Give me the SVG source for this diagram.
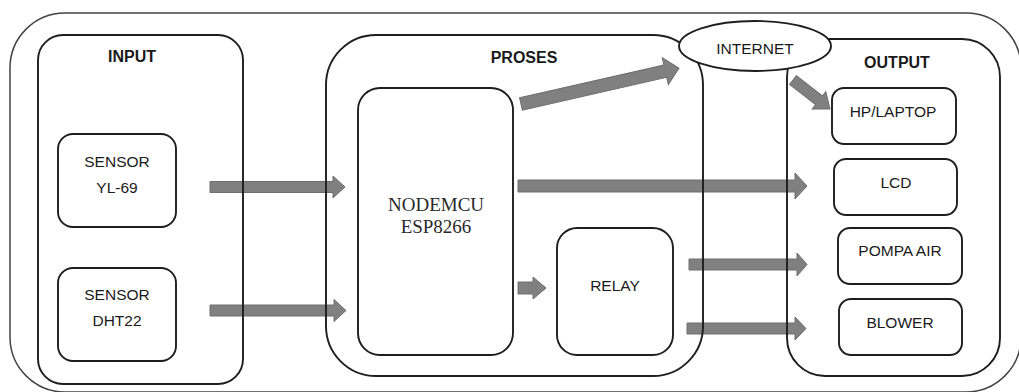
<svg xmlns="http://www.w3.org/2000/svg" width="1019" height="392" viewBox="0 0 1019 392">
<style>
.box{fill:none;stroke:#1e1e1e;stroke-width:1.9}
.t{font-family:"Liberation Sans",Arial,sans-serif;font-size:15.5px;fill:#1a1a1a;text-anchor:middle}
.h{font-weight:bold;font-size:16px}
.s{font-family:"Liberation Serif","Times New Roman",serif;font-size:19px;fill:#2a2a2a;text-anchor:middle}
.arr{fill:#808080;stroke:#6e6e6e;stroke-width:1}
</style>
<rect width="1019" height="392" fill="#fff"/>
<g id="frame"><rect x="10" y="13" width="1011" height="379" rx="55" fill="none" stroke="#444" stroke-width="1.5"/></g>
<g id="connectors">
<polygon class="arr" points="210,181.5 333,181.5 333,176 345,187 333,198 333,192.5 210,192.5"/>
<polygon class="arr" points="210,305 334,305 334,299.5 346,310.5 334,321.5 334,316 210,316"/>
<polygon class="arr" points="518,282 533,282 533,277 546,288 533,299 533,294 518,294"/>
<polygon class="arr" points="518,180 795,180 795,173 807,186 795,199 795,192 518,192"/>
<polygon class="arr" points="689,259 797,259 797,253 807,264.5 797,276 797,270 689,270"/>
<polygon class="arr" points="687,323 795,323 795,317 806,328.5 795,340 795,334 687,334"/>
<polygon class="arr" transform="translate(521,104) rotate(-12.8)" points="0,-6.3 148,-6.3 148,-13.7 162,0 148,13.7 148,6.3 0,6.3"/>
<polygon class="arr" transform="translate(793,80) rotate(38)" points="0,-5.5 33,-5.5 33,-11 47,0 33,11 33,5.5 0,5.5"/>
</g>
<g id="input"><rect class="box" x="38" y="35" width="205" height="349" rx="25"/><text class="t h" x="132" y="62">INPUT</text></g>
<g id="proses"><rect class="box" x="326" y="35" width="377" height="341" rx="50"/><text class="t h" x="524" y="63">PROSES</text></g>
<g id="output"><rect class="box" x="787" y="39" width="213" height="337" rx="38"/><text class="t h" x="897" y="68">OUTPUT</text></g>
<g id="internet"><ellipse cx="755" cy="46" rx="76" ry="25" fill="#fff" stroke="#1e1e1e" stroke-width="1.9"/><text class="t" x="755" y="54">INTERNET</text></g>
<g id="sensor-yl69"><rect class="box" x="58" y="134" width="118" height="93" rx="15"/><text class="t" x="117" y="167">SENSOR</text><text class="t" x="117" y="193">YL-69</text></g>
<g id="sensor-dht22"><rect class="box" x="58" y="268" width="118" height="93" rx="15"/><text class="t" x="117" y="300">SENSOR</text><text class="t" x="117" y="326">DHT22</text></g>
<g id="nodemcu"><rect class="box" x="358" y="88" width="155" height="267" rx="22"/><text class="s" x="436" y="211">NODEMCU</text><text class="s" x="436" y="233">ESP8266</text></g>
<g id="relay"><rect class="box" x="557" y="228" width="116" height="127" rx="20"/><text class="t" x="615" y="291">RELAY</text></g>
<g id="hp-laptop"><rect class="box" x="832" y="88" width="124" height="56" rx="12"/><text class="t" x="893" y="117">HP/LAPTOP</text></g>
<g id="lcd"><rect class="box" x="834" y="159" width="123" height="56" rx="12"/><text class="t" x="896" y="188">LCD</text></g>
<g id="pompa-air"><rect class="box" x="838" y="228" width="124" height="56" rx="12"/><text class="t" x="900" y="256">POMPA AIR</text></g>
<g id="blower"><rect class="box" x="839" y="299" width="123" height="56" rx="12"/><text class="t" x="900" y="328">BLOWER</text></g>
</svg>
